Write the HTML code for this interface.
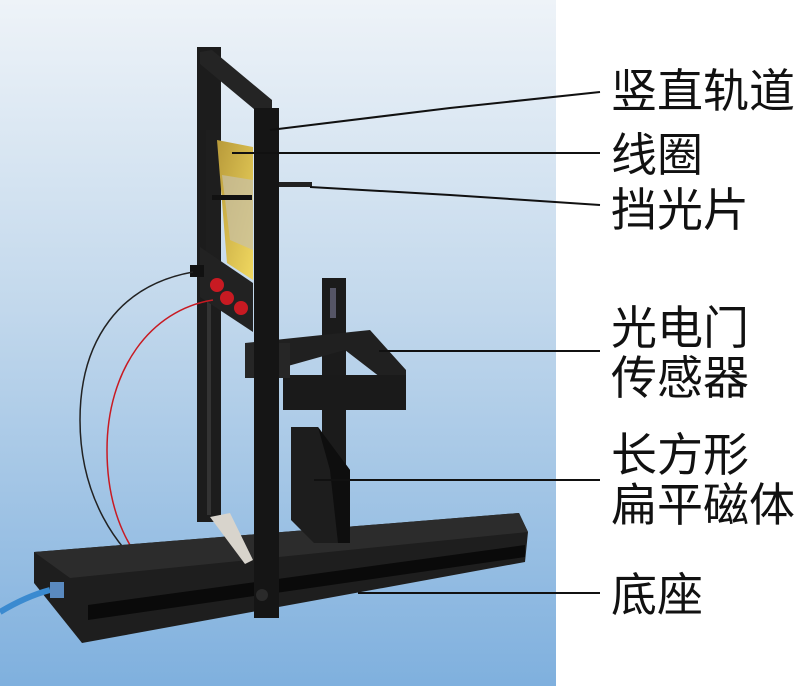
<!DOCTYPE html>
<html><head><meta charset="utf-8"><style>
html,body{margin:0;padding:0;background:#fff;}
body{width:800px;height:686px;position:relative;overflow:hidden;font-family:"Liberation Sans","Noto Sans CJK SC",sans-serif;}
.lb{position:absolute;left:611px;font-size:46px;line-height:50px;color:#111;white-space:nowrap;}
</style></head><body>
<svg width="800" height="686" style="position:absolute;left:0;top:0">
<defs><linearGradient id="bg" x1="0" y1="0" x2="0" y2="1">
<stop offset="0" stop-color="#eef3f8"/><stop offset="0.45" stop-color="#c2d8ec"/><stop offset="1" stop-color="#7fb0de"/></linearGradient>
<linearGradient id="coil" x1="0" y1="0" x2="1" y2="1"><stop offset="0" stop-color="#b89a3a"/><stop offset="1" stop-color="#f0d860"/></linearGradient></defs>
<rect x="0" y="0" width="556" height="686" fill="url(#bg)"/>
<rect x="197" y="47" width="24" height="475" fill="#1c1c1c"/>
<rect x="207" y="300" width="4" height="215" fill="#333"/>
<polygon points="200,52 212,50 272,100 272,114 260,114 200,64" fill="#242424"/>
<rect x="206" y="130" width="14" height="170" fill="#1e1e1e"/>
<polygon points="217,140 253,147 253,280 227,263" fill="url(#coil)"/>
<polygon points="222,175 253,180 253,250 230,240" fill="#c8c0a8" opacity="0.7"/>
<rect x="212" y="195" width="40" height="5" fill="#111"/>
<polygon points="200,247 253,283 253,332 200,297" fill="#222"/>
<rect x="190" y="265" width="14" height="12" fill="#111"/>
<circle cx="217" cy="285" r="7" fill="#c81a22"/><circle cx="227" cy="298" r="7" fill="#c81a22"/><circle cx="241" cy="308" r="7" fill="#c81a22"/>
<rect x="276" y="182" width="36" height="5" fill="#222"/>
<path d="M193,272 C120,285 80,340 80,420 C80,500 120,550 146,570" stroke="#222" stroke-width="1.5" fill="none"/>
<path d="M213,300 C150,310 107,370 107,450 C107,520 135,555 149,572" stroke="#c81a22" stroke-width="1.5" fill="none"/>
<rect x="322" y="278" width="24" height="235" fill="#1b1b1b"/>
<rect x="330" y="288" width="6" height="30" fill="#556"/>
<polygon points="34,552 519,513 528,532 525,562 82,643 34,583" fill="#1e1e1e"/>
<polygon points="34,552 519,513 528,532 70,578" fill="#2c2c2c"/>
<polygon points="88,605 525,545 525,557 88,620" fill="#0a0a0a"/>
<polygon points="210,517 230,513 253,560 245,564" fill="#d8d4cc"/>
<path d="M0,612 C20,600 35,594 50,590" stroke="#3a8ad0" stroke-width="6" fill="none"/>
<rect x="50" y="582" width="14" height="16" fill="#5a8ac0"/>
<polygon points="291,427 318,427 350,470 350,543 314,543 291,520" fill="#1d1d1d"/>
<polygon points="318,427 350,470 350,543 338,543 330,470" fill="#0e0e0e"/>
<polygon points="245,343 370,330 406,370 406,407 283,410 283,387 380,377 345,350 245,378" fill="#202020"/>
<rect x="283" y="375" width="123" height="35" fill="#1a1a1a"/>
<rect x="245" y="343" width="45" height="35" fill="#262626"/>
<rect x="254" y="108" width="25" height="510" fill="#151515"/>
<circle cx="262" cy="595" r="6" fill="#2a2a2a"/>
<g stroke="#111" stroke-width="2" fill="none">
<polyline points="270,130 450,108 600,92"/>
<line x1="232" y1="153" x2="600" y2="153"/>
<polyline points="310,187 450,195 600,205"/>
<line x1="379" y1="351" x2="600" y2="351"/>
<line x1="314" y1="480" x2="600" y2="480"/>
<line x1="358" y1="593" x2="600" y2="593"/>
</g>
</svg>
<div class="lb" style="top:66px">竖直轨道</div>
<div class="lb" style="top:130px">线圈</div>
<div class="lb" style="top:185px">挡光片</div>
<div class="lb" style="top:303px">光电门</div>
<div class="lb" style="top:353px">传感器</div>
<div class="lb" style="top:430px">长方形</div>
<div class="lb" style="top:480px">扁平磁体</div>
<div class="lb" style="top:570px">底座</div>
</body></html>
